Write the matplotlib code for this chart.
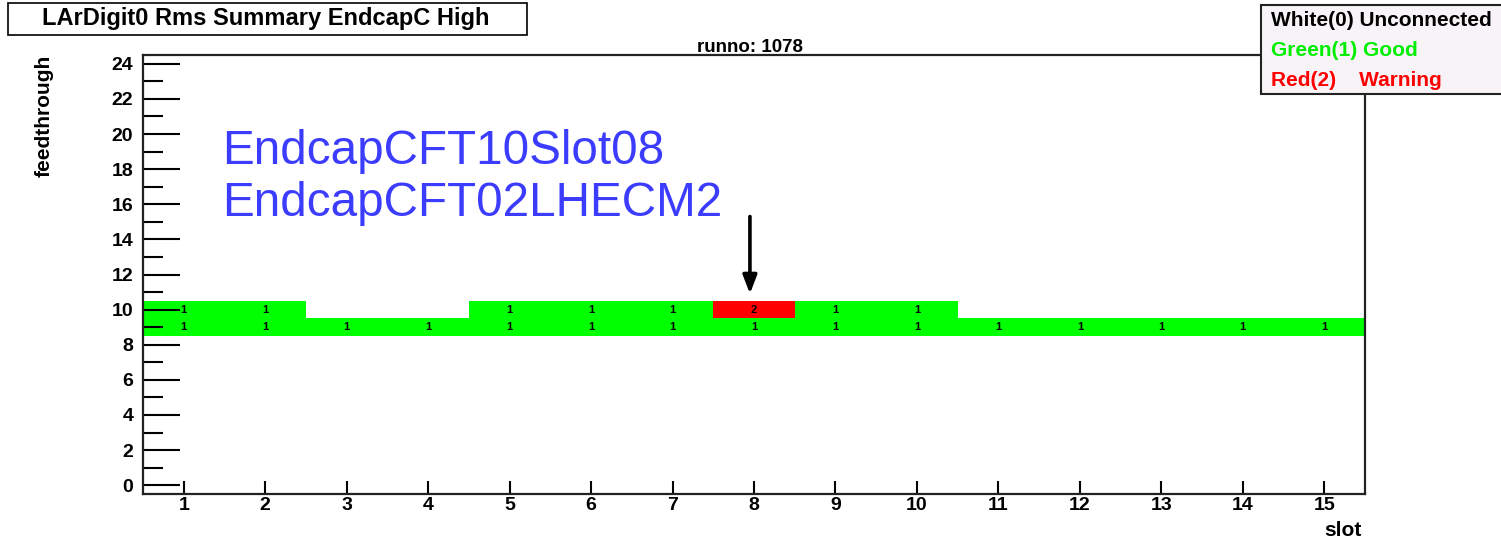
import numpy as np
import matplotlib
matplotlib.use("Agg")
import matplotlib.pyplot as plt
from matplotlib.colors import ListedColormap
from matplotlib.patches import Rectangle

# ---- data ----
slots = list(range(1, 16))
feedthroughs = list(range(0, 25))
row_ft9 = [1, 1, 1, 1, 1, 1, 1, 1, 1, 1, 1, 1, 1, 1, 1]
row_ft10 = [1, 1, 0, 0, 1, 1, 1, 2, 1, 1, 0, 0, 0, 0, 0]
filled_rows = {9: row_ft9, 10: row_ft10}
title = "LArDigit0 Rms Summary EndcapC High"
subtitle = "runno: 1078"
legend_lines = ["White(0) Unconnected", "Green(1) Good", "Red(2)    Warning"]
legend_colors = ["#000000", "#00ee00", "#ff0000"]
note_lines = ["EndcapCFT10Slot08", "EndcapCFT02LHECM2"]
arrow_slot = 8
y_ticks = list(range(0, 25, 2))

plt.rcParams['font.family'] = ['Liberation Sans', 'DejaVu Sans']

W, H = 1501, 540
fig = plt.figure(figsize=(W / 100, H / 100), dpi=100)

def fx(px):
    return px / W

def fy(py):
    return 1 - py / H

L, R, T, B = 143, 1365, 55, 494
ax = fig.add_axes([fx(L), fy(B), fx(R) - fx(L), fy(T) - fy(B)])

grid = np.zeros((len(feedthroughs), len(slots)))
for ft, row in filled_rows.items():
    grid[feedthroughs.index(ft), :] = row
masked = np.ma.masked_equal(grid, 0)
cmap = ListedColormap(["#00ff00", "#ff0000"])
xe = np.arange(slots[0] - 0.5, slots[-1] + 1.0)
ye = np.arange(feedthroughs[0] - 0.5, feedthroughs[-1] + 1.0)
ax.pcolormesh(xe, ye, masked, cmap=cmap, vmin=0.5, vmax=2.5, shading='flat')

for ft, row in filled_rows.items():
    for s, v in zip(slots, row):
        if v:
            ax.text(s, ft, str(v), ha='center', va='center', fontsize=8,
                    fontweight='bold', color='black')

ax.set_xlim(slots[0] - 0.5, slots[-1] + 0.5)
ax.set_ylim(feedthroughs[0] - 0.5, feedthroughs[-1] + 0.5)

ax.set_xticks(slots)
ax.set_yticks(y_ticks)
ax.set_yticks([v for v in feedthroughs if v % 2 == 1], minor=True)
ax.tick_params(axis='y', which='major', direction='in', length=26.5, width=1.5,
               labelsize=14, pad=7)
ax.tick_params(axis='y', which='minor', direction='in', length=14.4, width=1.5)
ax.tick_params(axis='x', which='major', direction='in', length=9.4, width=1.5,
               labelsize=14, pad=2)
for lab in ax.get_xticklabels() + ax.get_yticklabels():
    lab.set_fontweight('bold')
for sp in ax.spines.values():
    sp.set_linewidth(1.6)
    sp.set_color('#222222')

# axis titles
fig.text(fx(1362), fy(530), "slot", ha='right', va='center', fontsize=15,
         fontweight='bold')
fig.text(fx(44), fy(55), "feedthrough", ha='center', va='top', rotation=90,
         fontsize=15, fontweight='bold')

# title box
fig.patches.append(Rectangle((fx(8), fy(35)), fx(527) - fx(8), fy(3) - fy(35),
                             transform=fig.transFigure, facecolor='white',
                             edgecolor='black', linewidth=1.2))
fig.text(fx(266), fy(19), title, ha='center', va='center', fontsize=17,
         fontweight='bold')
fig.text(fx(750), fy(52), subtitle, ha='center', va='baseline', fontsize=13.5,
         fontweight='bold')

# legend box
fig.patches.append(Rectangle((fx(1261), fy(94)), fx(1520) - fx(1261), fy(5) - fy(94),
                             transform=fig.transFigure, facecolor='#f7f3f7',
                             edgecolor='#222222', linewidth=1.5, zorder=5))
for i, (txt, col) in enumerate(zip(legend_lines, legend_colors)):
    fig.text(fx(1271), fy(20 + 30 * i), txt, ha='left', va='center',
             fontsize=15, fontweight='bold', color=col, zorder=6)

# annotation
for i, txt in enumerate(note_lines):
    fig.text(fx(222), fy(164 + 52 * i), txt, ha='left', va='baseline',
             fontsize=34.3, color='#3c3cff')

y_tail = 15.3
y_tip = 10.9
ax.annotate("", xy=(arrow_slot - 0.05, y_tip), xytext=(arrow_slot - 0.05, y_tail),
            arrowprops=dict(arrowstyle='-|>,head_length=1.1,head_width=0.42',
                            color='black', lw=2.6, shrinkA=0, shrinkB=0))

fig.savefig("out.png", dpi=100)
